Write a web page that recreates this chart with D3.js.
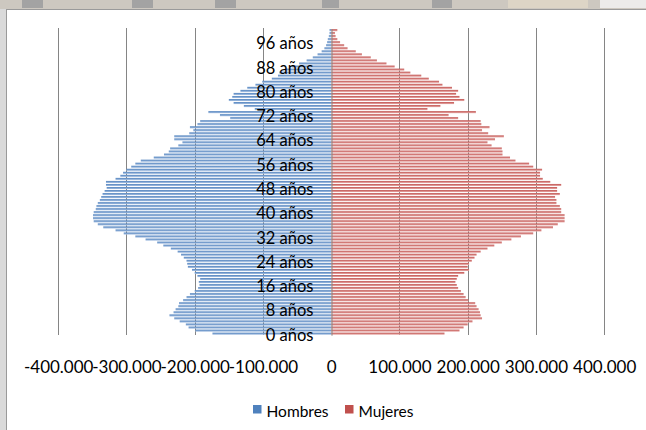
<!DOCTYPE html>
<html>
<head>
<meta charset="utf-8">
<script src="https://cdn.jsdelivr.net/npm/d3@7"></script>
<style>
  body { margin: 0; background: #fff; }
  text { font-family: Lato, "Open Sans", sans-serif; fill: #000; }
</style>
</head>
<body>
<div id="viz"></div>
<script>
// population by single year of age, thousands (0 .. 100)
const ages = d3.range(0, 101)
const hombres = [
  174, 199, 209, 213, 222, 230, 237, 231, 228, 224,
  223, 217, 212, 207, 200, 195, 193, 194, 192, 196,
  200, 204, 210, 211, 212, 216, 220, 225, 235, 246,
  255, 272, 287, 304, 316, 334, 342, 348, 349, 349,
  348, 345, 344, 342, 339, 337, 335, 332, 329, 330,
  330, 316, 309, 305, 300, 293, 287, 279, 260, 245,
  238, 236, 224, 218, 230, 230, 208, 202, 207, 196,
  192, 148, 163, 180, 112, 128, 143, 150, 145, 143,
  133, 123, 111, 101, 87, 78, 76, 68, 58, 47,
  36, 27, 20, 14, 10, 7.5, 6, 5, 3.5, 2.5,
  2.5
]
const mujeres = [
  166, 188, 194, 200, 207, 221, 219, 218, 216, 213,
  211, 201, 197, 194, 190, 186, 184, 182, 184, 186,
  195, 202, 200, 202, 206, 210, 213, 219, 229, 239,
  250, 264, 278, 296, 308, 325, 332, 342, 342, 342,
  337, 337, 335, 330, 330, 328, 335, 331, 331, 337,
  321, 310, 306, 306, 309, 296, 290, 270, 262, 251,
  251, 250, 235, 229, 240, 253, 230, 221, 232, 220,
  219, 186, 172, 212, 141, 160, 180, 195, 188, 183,
  186, 177, 163, 158, 143, 132, 116, 107, 93, 81,
  67, 58, 45, 36, 24, 19, 13, 9, 6.5, 5.5,
  9
]
const labelAges = [0, 8, 16, 24, 32, 40, 48, 56, 64, 72, 80, 88, 96]
const xTicks = [-400000, -300000, -200000, -100000, 0, 100000, 200000, 300000, 400000]
const series = ["Hombres", "Mujeres"]
const colors = ["#4f81bd", "#c0504d"]

const width = 646, height = 430

const svg = d3.select("#viz").append("svg")
    .attr("width", width)
    .attr("height", height)

// window chrome around the chart (screenshot border)
svg.append("rect").attr("x", 0).attr("y", 0).attr("width", width).attr("height", 9).attr("fill", "#cdc8c0")
;[[22, 21], [132, 21], [215, 21], [322, 17], [432, 20]].forEach(b => {
  svg.append("rect").attr("x", b[0]).attr("y", 0).attr("width", b[1]).attr("height", 8).attr("fill", "#a3a3a3")
})
svg.append("rect").attr("x", 508).attr("y", 0).attr("width", 80).attr("height", 8).attr("fill", "#ddd5c6")
svg.append("rect").attr("x", 600).attr("y", 0).attr("width", 46).attr("height", 8).attr("fill", "#ecebea")
svg.append("rect").attr("x", 0).attr("y", 9).attr("width", 6).attr("height", height - 9).attr("fill", "#dadada")
svg.append("line").attr("x1", 6.5).attr("x2", 6.5).attr("y1", 9).attr("y2", height).attr("stroke", "#9a9a9a")
svg.append("line").attr("x1", 6).attr("x2", width).attr("y1", 9.5).attr("y2", 9.5).attr("stroke", "#9a9a9a")

// scales
const x = d3.scaleLinear().domain([-400000, 400000]).range([58.2, 604.2])
const y = d3.scaleBand().domain(ages).range([335.2, 28.7]).paddingInner(0.32).paddingOuter(0.16)

const es = d3.formatLocale({ decimal: ",", thousands: ".", grouping: [3], currency: ["", "€"], minus: "-" })
const fmt = es.format(",")

// gridlines
svg.append("g").selectAll("line")
  .data(xTicks.filter(d => d !== 0))
  .join("line")
    .attr("x1", d => Math.round(x(d)) + 0.5)
    .attr("x2", d => Math.round(x(d)) + 0.5)
    .attr("y1", 28)
    .attr("y2", 335)
    .attr("stroke", "#858585")
    .attr("stroke-width", 1)

// bar gradients
const defs = svg.append("defs")
const grads = [["#4f81bd", "#a8c1e2"], ["#c0504d", "#e8aeac"]]
grads.forEach((g, i) => {
  const lg = defs.append("linearGradient").attr("id", "g" + i)
      .attr("x1", 0).attr("x2", 0).attr("y1", 0).attr("y2", 1)
  lg.append("stop").attr("offset", "0%").attr("stop-color", g[0])
  lg.append("stop").attr("offset", "100%").attr("stop-color", g[1])
})

// bars
svg.append("g").selectAll("rect")
  .data(ages)
  .join("rect")
    .attr("x", d => x(-hombres[d] * 1000))
    .attr("y", d => y(d))
    .attr("width", d => x(0) - x(-hombres[d] * 1000))
    .attr("height", y.bandwidth())
    .attr("fill", "url(#g0)")

svg.append("g").selectAll("rect")
  .data(ages)
  .join("rect")
    .attr("x", x(0))
    .attr("y", d => y(d))
    .attr("width", d => x(mujeres[d] * 1000) - x(0))
    .attr("height", y.bandwidth())
    .attr("fill", "url(#g1)")

// category axis in the middle
const yAxis = svg.append("g")
    .attr("transform", `translate(${Math.round(x(0)) + 0.5},0)`)
    .call(d3.axisLeft(y).tickValues(labelAges).tickSize(0).tickPadding(18).tickFormat(d => d + " años"))
yAxis.select(".domain").attr("stroke", "#858585")
yAxis.selectAll("text")
    .attr("font-size", 16.5)
    .attr("dy", "0.42em")
    .style("font-family", "Lato, sans-serif")

// value axis labels
const xAxis = svg.append("g")
    .attr("transform", "translate(0,373)")
    .call(d3.axisBottom(x).tickValues(xTicks).tickSize(0).tickPadding(0).tickFormat(fmt))
xAxis.select(".domain").remove()
xAxis.selectAll("text")
    .attr("y", 0)
    .attr("dy", null)
    .attr("font-size", 17)
    .style("font-family", "Lato, sans-serif")

// legend
const legend = svg.append("g")
const legX = [253, 345]
series.forEach((s, i) => {
  legend.append("rect")
      .attr("x", legX[i]).attr("y", 405)
      .attr("width", 8.5).attr("height", 8.5)
      .attr("fill", colors[i])
  legend.append("text")
      .attr("x", legX[i] + 13.5).attr("y", 417)
      .attr("font-size", 15.5)
      .text(s)
})
</script>
</body>
</html>
